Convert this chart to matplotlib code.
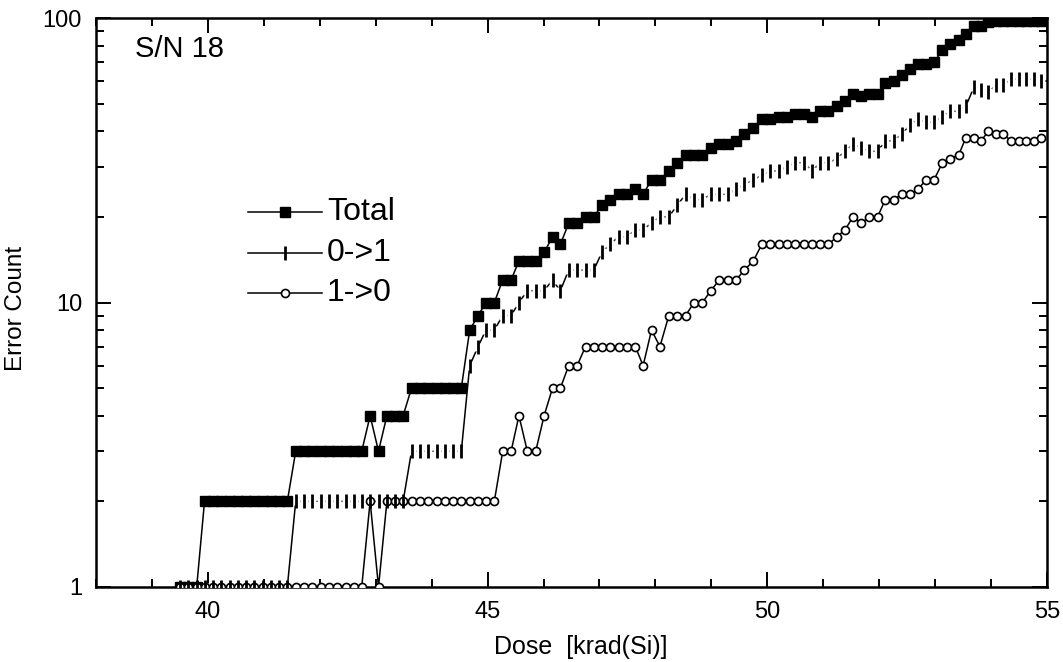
import matplotlib
matplotlib.use("Agg")
import matplotlib.pyplot as plt
from matplotlib.ticker import FixedLocator, LogLocator, NullFormatter

plt.rcParams['font.family'] = ['Liberation Sans', 'DejaVu Sans']

# Accumulated dose at each readout, krad(Si)
dose = [39.50, 39.65, 39.80, 39.94, 40.09, 40.24, 40.39, 40.54, 40.68, 40.83,
        40.98, 41.13, 41.28, 41.42, 41.57, 41.72, 41.87, 42.02, 42.16, 42.31,
        42.46, 42.61, 42.75, 42.90, 43.05, 43.20, 43.35, 43.49, 43.64, 43.79,
        43.94, 44.09, 44.23, 44.38, 44.53, 44.68, 44.83, 44.97, 45.12, 45.27,
        45.42, 45.56, 45.71, 45.86, 46.01, 46.16, 46.30, 46.45, 46.60, 46.75,
        46.90, 47.04, 47.19, 47.34, 47.49, 47.64, 47.78, 47.93, 48.08, 48.24,
        48.39, 48.54, 48.69, 48.84, 48.99, 49.14, 49.29, 49.44, 49.59, 49.75,
        49.90, 50.05, 50.20, 50.35, 50.50, 50.66, 50.80, 50.95, 51.09, 51.24,
        51.39, 51.53, 51.68, 51.82, 51.97, 52.11, 52.26, 52.40, 52.55, 52.69,
        52.84, 52.98, 53.13, 53.27, 53.42, 53.55, 53.69, 53.82, 53.95, 54.09,
        54.22, 54.36, 54.49, 54.62, 54.76, 54.89]

# Error counts at each readout
total = [1, 1, 1, 2, 2, 2, 2, 2, 2, 2,
         2, 2, 2, 2, 3, 3, 3, 3, 3, 3,
         3, 3, 3, 4, 3, 4, 4, 4, 5, 5,
         5, 5, 5, 5, 5, 8, 9, 10, 10, 12,
         12, 14, 14, 14, 15, 17, 16, 19, 19, 20,
         20, 22, 23, 24, 24, 25, 24, 27, 27, 29,
         31, 33, 33, 33, 35, 36, 36, 37, 39, 41,
         44, 44, 45, 45, 46, 46, 45, 47, 47, 49,
         51, 54, 53, 54, 54, 59, 60, 63, 66, 69,
         69, 70, 77, 81, 84, 88, 94, 94, 97, 98,
         98, 98, 98, 98, 98, 98]

zero_to_one = [1, 1, 1, 1, 1, 1, 1, 1, 1, 1,
               1, 1, 1, 1, 2, 2, 2, 2, 2, 2,
               2, 2, 2, 2, 2, 2, 2, 2, 3, 3,
               3, 3, 3, 3, 3, 6, 7, 8, 8, 9,
               9, 10, 11, 11, 11, 12, 11, 13, 13, 13,
               13, 15, 16, 17, 17, 18, 18, 19, 20, 20,
               22, 24, 23, 23, 24, 24, 24, 25, 26, 27,
               28, 29, 29, 30, 31, 31, 29, 31, 31, 32,
               34, 36, 35, 34, 34, 37, 37, 39, 42, 44,
               43, 43, 45, 47, 47, 49, 57, 56, 55, 58,
               58, 61, 61, 61, 61, 60]

one_to_zero = [1, 1, 1, 1, 1, 1, 1, 1, 1, 1,
               1, 1, 1, 1, 1, 1, 1, 1, 1, 1,
               1, 1, 1, 2, 1, 2, 2, 2, 2, 2,
               2, 2, 2, 2, 2, 2, 2, 2, 2, 3,
               3, 4, 3, 3, 4, 5, 5, 6, 6, 7,
               7, 7, 7, 7, 7, 7, 6, 8, 7, 9,
               9, 9, 10, 10, 11, 12, 12, 12, 13, 14,
               16, 16, 16, 16, 16, 16, 16, 16, 16, 17,
               18, 20, 19, 20, 20, 23, 23, 24, 24, 25,
               27, 27, 31, 32, 33, 38, 38, 37, 40, 39,
               39, 37, 37, 37, 37, 38]

fig = plt.figure(figsize=(10.63, 6.62), dpi=100)
ax = fig.add_axes([0.0903, 0.1133, 0.8947, 0.8595])

lw = 1.1
tick_style = dict(marker='|', ms=9.5, mew=2.0)

# 0->1: the line is masked by a white box around each tick mark,
# so only the steeper steps show through
ax.plot(dose, zero_to_one, color='k', lw=lw, zorder=2)
ax.plot(dose, zero_to_one, ls='none', marker='s', ms=6.2, mfc='white',
        mec='none', zorder=2.5)

ax.plot(dose, total, color='k', lw=lw, marker='s', ms=7,
        mfc='k', mec='k', zorder=3)
ax.plot(dose, one_to_zero, color='k', lw=lw, marker='o', ms=5.8,
        mfc='white', mec='k', mew=1.2, zorder=4)
ax.plot(dose, zero_to_one, ls='none', color='k', zorder=5, **tick_style)

ax.set_yscale('log')
ax.set_xlim(38, 55)
ax.set_ylim(1, 100)

ax.xaxis.set_major_locator(FixedLocator([40, 45, 50, 55]))
ax.xaxis.set_minor_locator(FixedLocator([38, 39, 41, 42, 43, 44, 46, 47, 48,
                                         49, 51, 52, 53, 54]))
ax.yaxis.set_major_locator(FixedLocator([1, 10, 100]))
ax.yaxis.set_minor_locator(LogLocator(base=10, subs=range(2, 10)))
ax.yaxis.set_minor_formatter(NullFormatter())
ax.set_yticklabels(['1', '10', '100'])
ax.set_xticklabels(['40', '45', '50', '55'])

ax.tick_params(which='both', direction='in', top=True, right=True,
               width=1.4, labelsize=17)
ax.tick_params(which='major', length=11, pad=10)
ax.tick_params(which='minor', length=6)
for s in ax.spines.values():
    s.set_linewidth(1.8)

ax.set_xlabel('Dose  [krad(Si)]', fontsize=18)
ax.xaxis.set_label_coords(0.51, -0.085)
ax.set_ylabel('Error Count', fontsize=17.5)
ax.yaxis.set_label_coords(-0.073, 0.49)

ax.text(0.041, 0.945, 'S/N 18', transform=ax.transAxes, fontsize=21,
        va='center', ha='left')

# hand-placed legend
rows = [(0.659, 'Total', dict(marker='s', ms=7, mfc='k', mec='k')),
        (0.587, '0->1', tick_style),
        (0.517, '1->0', dict(marker='o', ms=5.8, mfc='white', mew=1.2))]
for y, label, style in rows:
    ax.plot([0.160, 0.238], [y, y], color='k', lw=lw, transform=ax.transAxes)
    ax.plot([0.199], [y], color='k', ls='none', transform=ax.transAxes, **style)
    ax.text(0.243, y, label, transform=ax.transAxes, fontsize=23,
            va='center', ha='left')

fig.savefig('out.png', dpi=100)
